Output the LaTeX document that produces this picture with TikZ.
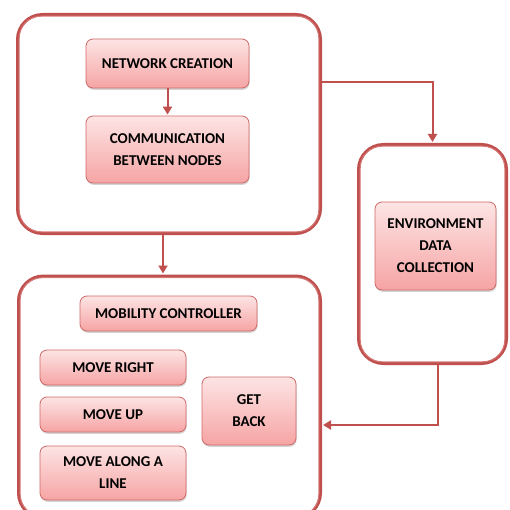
\documentclass[tikz,border=0pt]{standalone}
\usepackage{fontspec}
\setmainfont{Carlito}
\usetikzlibrary{positioning, arrows.meta, calc, shadows}
\definecolor{frame_red}{RGB}{192,80,77}
\definecolor{frame_pink}{RGB}{214,122,120}
\definecolor{box_top}{RGB}{253,228,228}
\definecolor{box_bottom}{RGB}{246,164,164}
\definecolor{box_edge}{RGB}{206,106,104}
\tikzstyle{block} = [rectangle, rounded corners=7pt, draw=box_edge, line width=0.8pt, top color=box_top, bottom color=box_bottom, align=center, inner sep=0pt, font=\bfseries\fontsize{15}{22}\selectfont, drop shadow={shadow xshift=0.6pt, shadow yshift=-1.8pt, opacity=0.35}]
\tikzstyle{frame} = [rectangle, rounded corners=25pt, draw=frame_red, line width=3pt]
\tikzstyle{inner frame} = [rounded corners=22pt, draw=frame_pink, line width=1pt]
\tikzstyle{arrow} = [draw=frame_red, line width=2pt, -{Triangle[width=9pt,length=8pt]}, shorten >=1pt]

\begin{document}
\begin{tikzpicture}[x=1pt, y=-1pt]
    \useasboundingbox (0,0) rectangle (509,510);
    % the three frames
    \node (top) [frame, minimum width=303pt, minimum height=219pt] at (169,124) {};
    \node (envframe) [frame, minimum width=148pt, minimum height=219pt] at (432.5,254) {};
    \node (bot) [frame, minimum width=302pt, minimum height=242pt] at (169.5,397) {};
    \foreach \f in {top, envframe, bot}
        \draw [inner frame] ([shift={(3.2,3.2)}]\f.north west) rectangle ([shift={(-3.2,-3.2)}]\f.south east);
    % blocks
    \node (net) [block, minimum width=163pt, minimum height=49pt] at (167.5,63.5) {NETWORK CREATION};
    \node (comm) [block, minimum width=163pt, minimum height=67pt] at (167.5,149.5) {COMMUNICATION\\BETWEEN NODES};
    \node (env) [block, minimum width=121pt, minimum height=88pt] at (435.5,246) {ENVIRONMENT\\DATA\\COLLECTION};
    \node (mob) [block, minimum width=177pt, minimum height=35pt] at (168.5,313.5) {MOBILITY CONTROLLER};
    \node (right) [block, minimum width=146pt, minimum height=35pt] at (113,367.5) {MOVE RIGHT};
    \node (up) [block, minimum width=146pt, minimum height=35pt] at (113,414.5) {MOVE UP};
    \node (line) [block, minimum width=146pt, minimum height=54pt] at (113,473) {MOVE ALONG A\\LINE};
    \node (back) [block, minimum width=94pt, minimum height=68pt] at (249,411) {GET\\BACK};
    % connectors
    \coordinate (split) at (322,82);
    \coordinate (join) at (322,425);
    \draw [arrow] (net) -- (comm);
    \draw [arrow] ([xshift=-6pt]top.south) -- ([xshift=-6pt]top.south |- bot.north);
    \draw [arrow] (split) -| (envframe.north);
    \draw [arrow] ([xshift=5.5pt]envframe.south) |- (join);
\end{tikzpicture}
\end{document}
